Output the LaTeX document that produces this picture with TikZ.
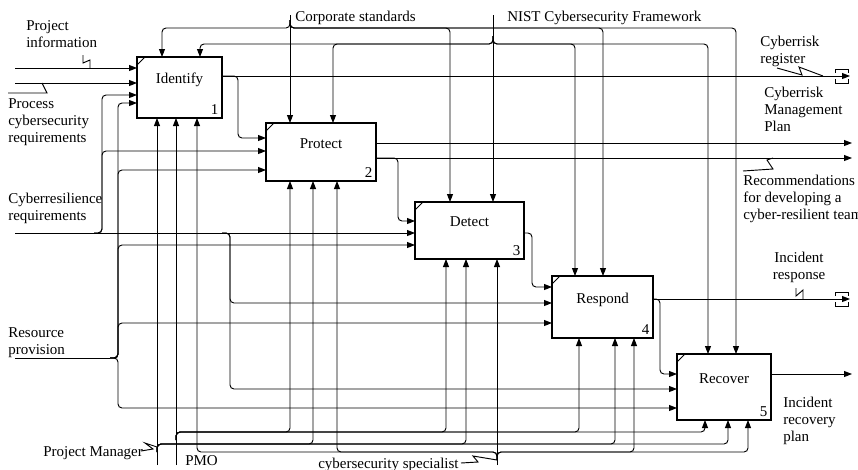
\documentclass[tikz,border=0pt]{standalone}
\usepackage{fontspec}
\setmainfont{Liberation Serif}
\usetikzlibrary{arrows.meta,positioning}

\begin{document}
\begin{tikzpicture}[x=0.75pt,y=-0.75pt,
font=\fontsize{11.25}{12.75}\selectfont,
func/.style 2 args={draw,line width=1.1pt,outer sep=0pt,inner sep=0pt,minimum width=#1*0.75pt,minimum height=#2*0.75pt},
ftitle/.style={inner sep=0pt,text height=8pt,text depth=2.5pt},
num/.style={anchor=south east,inner sep=2.5pt},
lbl/.style={anchor=north west,align=left,inner sep=0pt},
wire/.style={line width=0.7pt},
arr/.style={wire,-{Triangle[length=6pt,width=4.5pt]},rounded corners=3pt},
squig/.style={line width=0.7pt},
tunnel/.style={line width=0.7pt}
]
\useasboundingbox (0,0) rectangle (858,469);

% activity boxes
\node[func={85}{61}] (iden) at (179.5,87.5) {};
\node[func={110}{58}] (prot) at (321,152) {};
\node[func={109}{57}] (dete) at (469.5,230.5) {};
\node[func={101}{62}] (resp) at (602.5,307) {};
\node[func={94}{66}] (reco) at (724,387) {};

\node[ftitle,below=12pt of iden.north] (ident) {Identify};
\node[ftitle,below=11pt of prot.north] (protl) {Protect};
\node[ftitle,below=10.5pt of dete.north] (detel) {Detect};
\node[ftitle,below=12.5pt of resp.north] (respl) {Respond};
\node[ftitle,below=14pt of reco.north] (recol) {Recover};

\node[num] (idenn) at (iden.south east) {1};
\node[num] (protn) at (prot.south east) {2};
\node[num] (deten) at (dete.south east) {3};
\node[num] (respn) at (resp.south east) {4};
\node[num] (recon) at (reco.south east) {5};

\foreach \b in {iden,prot,dete,resp,reco}
  \draw[line width=0.7pt] (\b.north west) ++(0,8) -- ++(8,-8);

% inputs
\coordinate (pi) at (15,68);
\coordinate (pr) at (15,83);
\coordinate (cr) at (15,233);
\coordinate (rp) at (15,358);
\draw[arr] (pi) -- (iden.west |- pi);
\draw[arr] (pr) -- (iden.west |- pr);
\draw[arr] (cr) -- (dete.west |- cr);
\foreach \y/\b in {95/iden,151/prot}
  \draw[arr] (94,233) -- (102,233) -- (102,\y) -- (\b.west |- 0,\y);
\foreach \y/\b in {303/resp,389/reco}
  \draw[arr] (222,233) -- (230,233) -- (230,\y) -- (\b.west |- 0,\y);
\draw[wire] (rp) -- (110,358);
\foreach \y/\b in {103/iden,170/prot,245/dete,323/resp,408/reco}
  \draw[arr] (110,358) -- (118,358) -- (118,\y) -- (\b.west |- 0,\y);

% controls
\coordinate (std) at (290,15);
\coordinate (nist) at (493,15);
\draw[arr] (std) -- (prot.north -| std);
\foreach \x/\b in {162/iden,450/dete,603/resp,736/reco}
  \draw[arr] (290,20) -- (290,28) -- (\x,28) -- (\b.north -| \x,0);
\draw[arr] (nist) -- (dete.north -| nist);
\foreach \x/\b in {200/iden,333/prot,575/resp,708/reco}
  \draw[arr] (493,36) -- (493,44) -- (\x,44) -- (\b.north -| \x,0);

% outputs
\coordinate (o1) at (850,76);
\coordinate (o2) at (852,143);
\coordinate (o3) at (852,158);
\coordinate (o4) at (850,299);
\coordinate (o5) at (852,374);
\draw[arr] (iden.east |- o1) -- (o1);
\draw[arr] (iden.east |- o1) -- (238,76) -- (238,138) -- (prot.west |- 0,138);
\draw[arr] (prot.east |- o2) -- (o2);
\draw[arr] (prot.east |- o3) -- (o3);
\draw[arr] (prot.east |- o3) -- (398,158) -- (398,221) -- (dete.west |- 0,221);
\draw[arr] (dete.east |- 0,233) -- (532,233) -- (532,287) -- (resp.west |- 0,287);
\draw[arr] (resp.east |- o4) -- (o4);
\draw[arr] (resp.east |- o4) -- (660,299) -- (660,374) -- (reco.west |- 0,374);
\draw[arr] (reco.east |- o5) -- (o5);

% tunnelled arrows
\foreach \o in {o1,o4} {
  \draw[tunnel] (\o) ++(-15,-3) -- ++(0,-4) -- ++(13,0) -- ++(0,4);
  \draw[tunnel] (\o) ++(-15,3) -- ++(0,4) -- ++(13,0) -- ++(0,-4);
}

% mechanisms
\coordinate (pm) at (157,465);
\coordinate (pmo) at (176,465);
\coordinate (spec) at (497,465);
\draw[arr] (pm) -- (iden.south -| pm);
\foreach \x/\b in {313/prot,466/dete,615/resp,728/reco}
  \draw[arr] (157,452) -- (157,444) -- (\x,444) -- (\b.south -| \x,0);
\draw[arr] (pmo) -- (iden.south -| pmo);
\foreach \x/\b in {290/prot,446/dete,579/resp,705/reco}
  \draw[arr] (176,440) -- (176,432) -- (\x,432) -- (\b.south -| \x,0);
\draw[arr] (spec) -- (dete.south -| spec);
\foreach \x/\b in {197/iden,337/prot,634/resp,748/reco}
  \draw[arr] (497,460) -- (497,452) -- (\x,452) -- (\b.south -| \x,0);

% labels
\node[lbl] (pinfo) at (26,20) {Project\\information};
\node[lbl] (preq) at (8,98) {Process\\cybersecurity\\requirements};
\node[lbl] (cres) at (8,193) {Cyberresilience\\requirements};
\node[lbl] (rprov) at (8,327) {Resource\\provision};
\node[lbl] (stdl) at (295,11) {Corporate standards};
\node[lbl] (nistl) at (507,11) {NIST Cybersecurity Framework};
\node[lbl] (creg) at (760,36) {Cyberrisk\\register};
\node[lbl] (cmp) at (764,87) {Cyberrisk\\Management\\Plan};
\node[lbl] (recom) at (743,175) {Recommendations\\for developing a\\cyber-resilient team};
\node[anchor=north,align=center,inner sep=0pt] (iresp) at (799,252) {Incident\\response};
\node[lbl] (irec) at (783,397) {Incident\\recovery\\plan};
\node[lbl] (pml) at (43,446) {Project Manager};
\node[lbl] (pmol) at (185,455) {PMO};
\node[lbl] (specl) at (318,458) {cybersecurity specialist};

% squiggles
\draw[squig] (90,68) -- (90,60) -- (83,63) -- (83,55);
\draw[squig] (42,83) -- (47,93) -- (8,93);
\draw[squig] (777,68) -- (802,75) -- (799,67) -- (823,76);
\draw[squig] (743,171) -- (773,169) -- (767,160) -- (773,158);
\draw[squig] (803,299) -- (803,290) -- (796,296) -- (796,288);
\draw[squig] (141,451) -- (153,449) -- (145,443) -- (157,447);
\draw[squig] (461,463) -- (478,462) -- (473,456) -- (497,460);
\end{tikzpicture}
\end{document}
